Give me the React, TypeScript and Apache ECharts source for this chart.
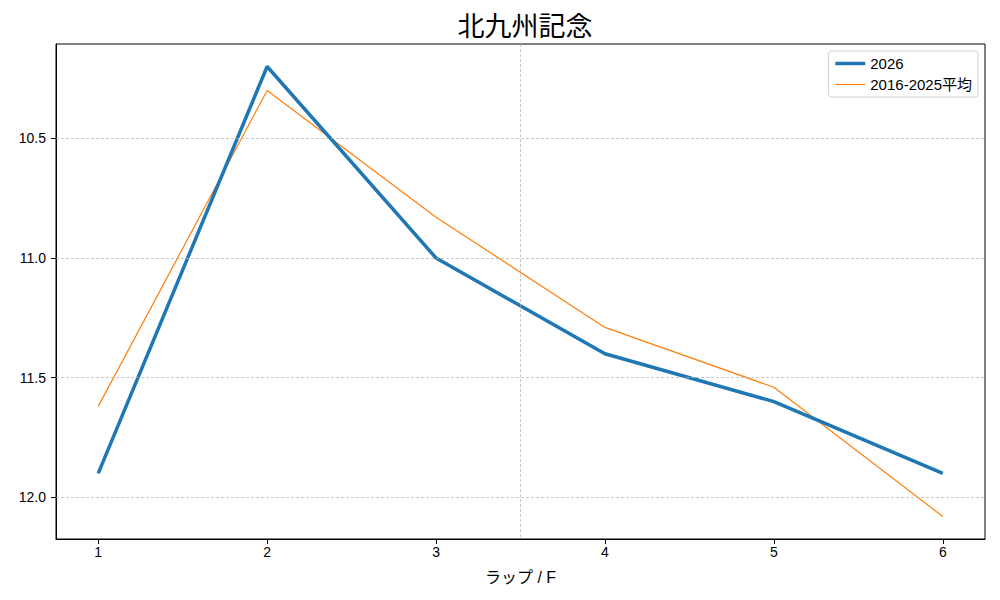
import React, { useEffect, useRef } from "react";
import * as echarts from "echarts";

const laps = [1, 2, 3, 4, 5, 6];
const series2026 = [11.9, 10.2, 11.0, 11.4, 11.6, 11.9];
const seriesAvg = [11.62, 10.3, 10.83, 11.29, 11.54, 12.08];
const yTicks = [10.5, 11.0, 11.5, 12.0];
const xTicks = [1, 2, 3, 4, 5, 6];
const dividerX = 3.5;

const FONT = '"Liberation Sans", "Noto Sans CJK JP", sans-serif';
const CJK = '"Noto Sans CJK JP", "Noto Sans", sans-serif';

export default function App() {
  const ref = useRef<HTMLDivElement>(null);
  useEffect(() => {
    if (!ref.current) return;
    const chart = echarts.init(ref.current, null, { renderer: "svg" });
    const gridLines = [
      ...yTicks.map((v) => ({ yAxis: v })),
      { xAxis: dividerX },
    ];
    chart.setOption({
      animation: false,
      backgroundColor: "#ffffff",
      textStyle: { fontFamily: FONT },
      title: {
        text: "北九州記念",
        left: 520,
        textAlign: "center",
        top: 6,
        textStyle: { fontFamily: CJK, fontSize: 27, fontWeight: "normal", color: "#000" },
      },
      legend: {
        orient: "vertical",
        right: 22,
        top: 51,
        itemWidth: 30,
        itemHeight: 14,
        itemGap: 6,
        padding: [5, 6, 5, 5],
        borderColor: "#d0d0d0",
        borderWidth: 1,
        borderRadius: 3,
        backgroundColor: "rgba(255,255,255,0.8)",
        textStyle: { fontFamily: FONT, fontSize: 15, color: "#000" },
        data: [
          { name: "2026", lineStyle: { width: 3.5 }, itemStyle: { opacity: 0 } },
          { name: "2016-2025平均", lineStyle: { width: 1.2 }, itemStyle: { opacity: 0 } },
        ],
      },
      grid: {
        left: 56,
        right: 15,
        top: 44,
        bottom: 61,
        show: true,
        borderColor: "#000",
        borderWidth: 1,
        backgroundColor: "transparent",
      },
      xAxis: {
        type: "value",
        min: 0.75,
        max: 6.25,
        name: "ラップ / F",
        nameLocation: "middle",
        nameGap: 30,
        nameTextStyle: { fontFamily: FONT, fontSize: 16, color: "#000" },
        axisLine: { show: true, lineStyle: { color: "#000", width: 1 } },
        axisTick: { show: true, customValues: xTicks, length: 5, lineStyle: { color: "#000" } },
        axisLabel: {
          customValues: xTicks,
          color: "#000",
          fontSize: 14,
          margin: 6,
          fontFamily: FONT,
          formatter: (v: number) => String(v),
        },
        splitLine: { show: false },
      },
      yAxis: {
        type: "value",
        inverse: true,
        min: 10.106,
        max: 12.174,
        axisLine: { show: true, lineStyle: { color: "#000", width: 1 } },
        axisTick: { show: true, customValues: yTicks, length: 5, lineStyle: { color: "#000" } },
        axisLabel: {
          customValues: yTicks,
          color: "#000",
          fontSize: 14,
          margin: 10,
          fontFamily: FONT,
          formatter: (v: number) => v.toFixed(1),
        },
        splitLine: { show: false },
      },
      series: [
        {
          name: "grid",
          type: "line",
          data: [],
          z: 1,
          silent: true,
          markLine: {
            silent: true,
            symbol: "none",
            label: { show: false },
            lineStyle: { color: "#b0b0b0", type: [3, 2], width: 0.7 },
            data: gridLines,
          },
        },
        {
          name: "2026",
          type: "line",
          z: 3,
          symbol: "none",
          color: "#1f77b4",
          lineStyle: { width: 3.5, color: "#1f77b4" },
          data: laps.map((l, i) => [l, series2026[i]]),
        },
        {
          name: "2016-2025平均",
          type: "line",
          z: 2,
          symbol: "none",
          color: "#ff7f0e",
          lineStyle: { width: 1.2, color: "#ff7f0e" },
          data: laps.map((l, i) => [l, seriesAvg[i]]),
        },
      ],
    });
    return () => chart.dispose();
  }, []);
  return (
    <div
      ref={ref}
      style={{ position: "fixed", left: 0, top: 0, width: 1000, height: 600 }}
    />
  );
}
